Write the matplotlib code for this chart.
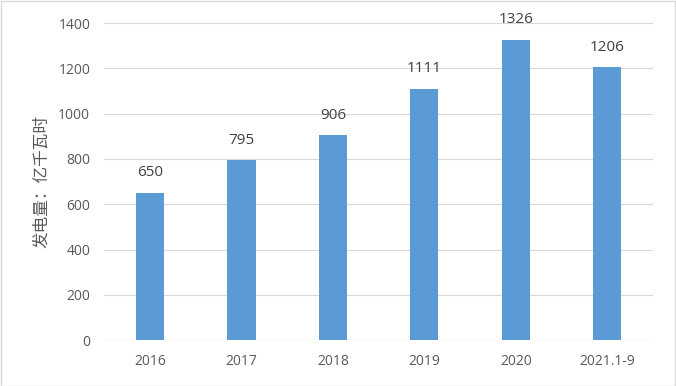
import matplotlib.pyplot as plt
import numpy as np

plt.rcParams['font.family'] = ['Open Sans', 'Noto Sans CJK SC', 'DejaVu Sans']

years = ['2016', '2017', '2018', '2019', '2020', '2021.1-9']
output = [650, 795, 906, 1111, 1326, 1206]

fig = plt.figure(figsize=(6.76, 3.86), dpi=100)
ax = fig.add_axes([0.154, 0.119, 0.812, 0.821])

x = np.arange(len(years))
bars = ax.bar(x, output, width=0.31, color='#5B9BD5', zorder=3)
for b, v in zip(bars, output):
    ax.text(b.get_x() + b.get_width() / 2, v + 55, str(v), ha='center', va='bottom',
            fontsize=11, color='#404040')

ax.set_xlim(-0.5, len(years) - 0.5)
ax.set_ylim(0, 1400)
ax.set_yticks(range(0, 1401, 200))
ax.set_xticks(x)
ax.set_xticklabels(years)
ax.yaxis.grid(True, color='#d9d9d9', linewidth=0.8, zorder=0)
ax.axhline(0, color='#d9d9d9', linewidth=0.8, zorder=2)
for s in ax.spines.values():
    s.set_visible(False)
ax.tick_params(length=0, labelsize=10, colors='#595959', pad=10)
ax.set_ylabel('发电量：亿千瓦时', fontsize=12, color='#595959', labelpad=6,
              family=['Noto Sans CJK SC', 'DejaVu Sans'])

fig.patches.append(plt.Rectangle((0.001, 0.001), 0.997, 0.997, transform=fig.transFigure,
                                 fill=False, edgecolor='#d9d9d9', linewidth=1))
fig.savefig('out.png', dpi=100)
